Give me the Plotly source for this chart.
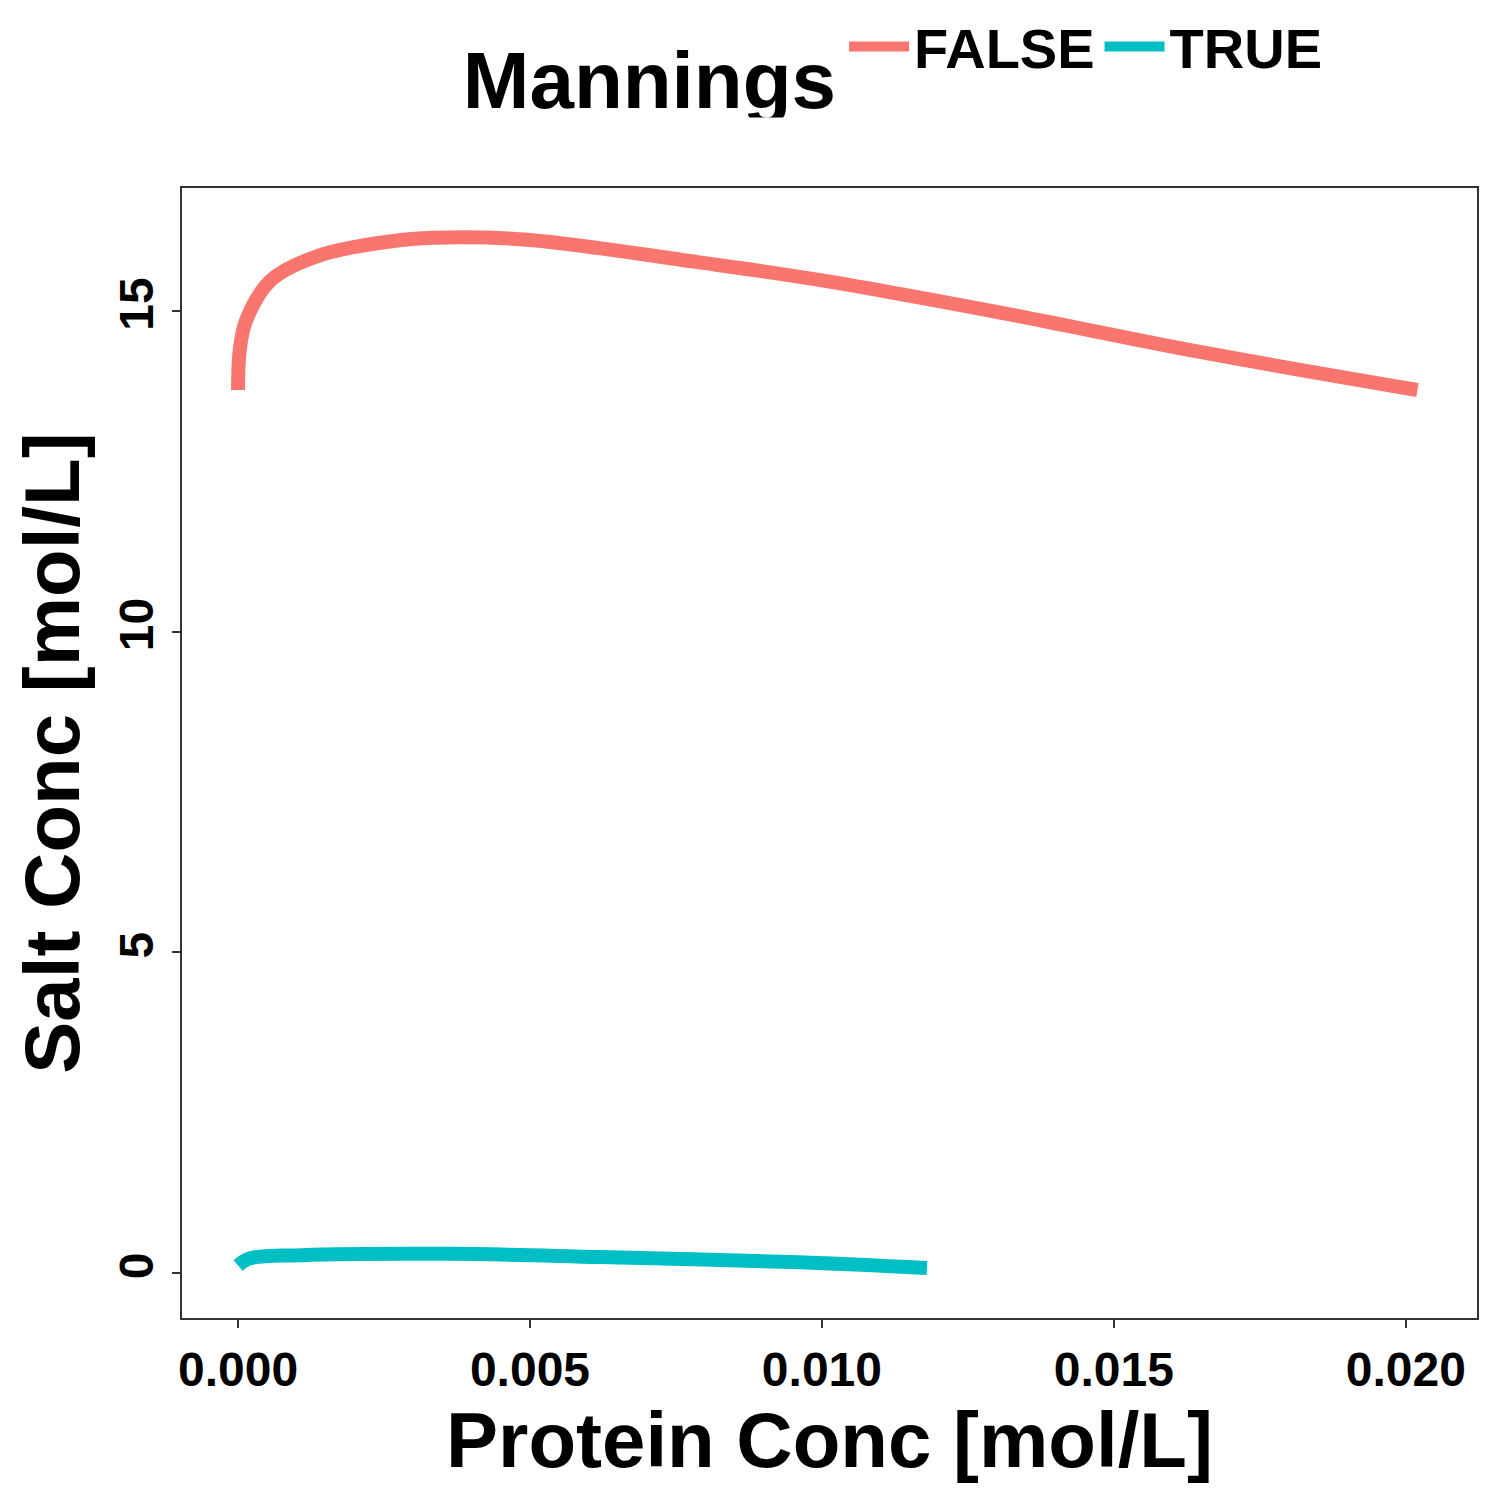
import plotly.graph_objects as go

# FALSE series (Mannings = FALSE)
false_x = [0.0, 0.00003, 0.00014, 0.00056, 0.0014, 0.0028, 0.0036, 0.005, 0.0079, 0.010, 0.0131, 0.0165, 0.0202]
false_y = [13.77, 14.4, 14.86, 15.48, 15.87, 16.11, 16.15, 16.11, 15.76, 15.48, 14.97, 14.36, 13.77]

# TRUE series (Mannings = TRUE)
true_x = [0.0, 0.0002, 0.0011, 0.0036, 0.0062, 0.0096, 0.0118]
true_y = [0.12, 0.23, 0.28, 0.30, 0.25, 0.17, 0.08]

font = "Liberation Sans"

fig = go.Figure()
fig.add_trace(go.Scatter(x=false_x, y=false_y, mode="lines", name="<b>FALSE</b>",
                         line=dict(color="#F8766D", width=14, shape="spline")))
fig.add_trace(go.Scatter(x=true_x, y=true_y, mode="lines", name="<b>TRUE</b>",
                         line=dict(color="#00BFC4", width=14, shape="spline")))

fig.update_layout(
    width=1500, height=1500,
    plot_bgcolor="white", paper_bgcolor="white",
    font=dict(family=font, color="black"),
    margin=dict(l=174, r=31, t=180, b=190),
    showlegend=True,
    legend=dict(
        orientation="h", x=0.55, xanchor="center", y=0.965, yanchor="middle",
        yref="container", valign="middle",
        title=dict(text="<b>Mannings</b>", font=dict(size=80, family=font), side="left"),
        font=dict(size=56, family=font),
        itemwidth=60,
    ),
    xaxis=dict(
        range=[-0.00096, 0.02122],
        tickvals=[0, 0.005, 0.01, 0.015, 0.02],
        ticktext=["<b>0.000</b>", "<b>0.005</b>", "<b>0.010</b>", "<b>0.015</b>", "<b>0.020</b>"],
        tickfont=dict(size=48), ticks="outside", ticklen=8, tickwidth=2, tickcolor="#333",
        showgrid=False, zeroline=False, showline=True, linecolor="#333", linewidth=2, mirror=True,
        title=dict(text="<b>Protein Conc [mol/L]</b>", font=dict(size=78), standoff=8),
    ),
    yaxis=dict(
        range=[-0.70, 16.92],
        tickvals=[0, 5, 10, 15],
        ticktext=["<b>0</b>", "<b>5</b>", "<b>10</b>", "<b>15</b>"],
        tickangle=-90,
        tickfont=dict(size=48), ticks="outside", ticklen=8, tickwidth=2, tickcolor="#333",
        showgrid=False, zeroline=False, showline=True, linecolor="#333", linewidth=2, mirror=True,
        title=dict(text="<b>Salt Conc [mol/L]</b>", font=dict(size=78), standoff=8),
    ),
)

fig.write_html("out.html")
